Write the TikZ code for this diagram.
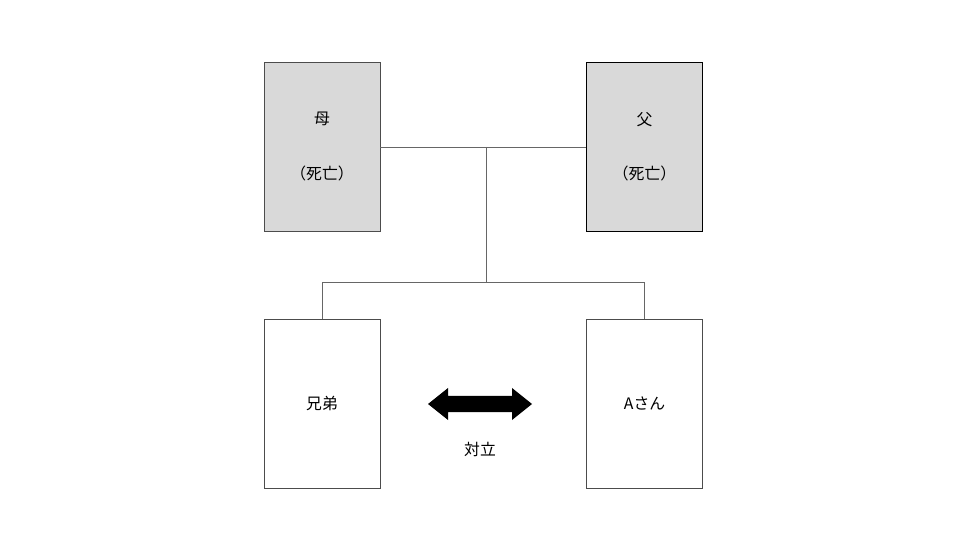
\documentclass[tikz,border=0pt]{standalone}
\usepackage{fontspec}
\setmainfont{Noto Sans CJK JP}
\begin{document}
\begin{tikzpicture}[x=0.02cm,y=-0.02cm,
  person/.style={draw=black!70,minimum width=2.32cm,minimum height=3.38cm,font=\small,align=center},
  dead/.style={person,fill=black!15},
  link/.style={draw=black!60,line width=0.5pt}]
  \useasboundingbox (0,0) rectangle (960,540);

  \node[dead] (mother) at (322,146.5) {母\\[2.2em]（死亡）};
  \node[dead,draw=black] (father) at (644.5,146.5) {父\\[2.2em]（死亡）};
  \node[person] (sibling) at (322,403.5) {兄弟};
  \node[person] (client) at (644.5,403.5) {Aさん};

  \coordinate (join) at (486,147);
  \coordinate (split) at (486,282);

  \draw[link] (mother.east |- join) -- (father.west |- join);
  \draw[link] (join) -- (split);
  \draw[link] (sibling.north) -- (sibling.north |- split) -- (client.north |- split) -- (client.north);

  % opposition
  \fill (428,404) -- (448,388) -- (448,396) -- (512,396) -- (512,388) -- (532,404)
    -- (512,420) -- (512,412) -- (448,412) -- (448,420) -- cycle;
  \node[font=\small] (conflict) at (480,449) {対立};
\end{tikzpicture}
\end{document}
